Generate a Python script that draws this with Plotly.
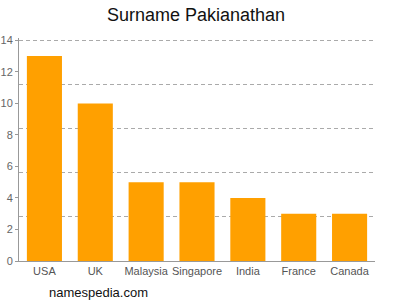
import plotly.graph_objects as go

countries = ["USA", "UK", "Malaysia", "Singapore", "India", "France", "Canada"]
counts = [13, 10, 5, 5, 4, 3, 3]
y_ticks = [0, 2, 4, 6, 8, 10, 12, 14]
grid_vals = [2.8, 5.6, 8.4, 11.2, 14]

fig = go.Figure()
fig.add_trace(go.Bar(x=countries, y=counts, marker=dict(color="#ffa000", line=dict(width=0)),
                     hoverinfo="x+y"))
fig.add_trace(go.Scatter(x=countries, y=counts, yaxis="y2", mode="markers",
                         marker=dict(opacity=0), hoverinfo="skip", showlegend=False))

font_family = "Liberation Sans, Arial, sans-serif"
yr = [0, 14.15]
fig.update_layout(
    width=400, height=300,
    margin=dict(l=19, r=25, t=38, b=39),
    paper_bgcolor="white", plot_bgcolor="white",
    showlegend=False,
    bargap=0.31,
    title=dict(text="Surname Pakianathan", x=0.49, xanchor="center", y=0.95, yanchor="middle",
               font=dict(family=font_family, size=18, color="#111")),
    xaxis=dict(showline=True, linecolor="#999", linewidth=1, ticks="", showgrid=False,
               tickangle=0, automargin=False,
               tickfont=dict(family=font_family, size=11, color="#555")),
    yaxis=dict(range=yr, tickvals=y_ticks, showgrid=False, showline=True,
               linecolor="#999", linewidth=1, ticks="outside", ticklen=3, tickcolor="#999",
               automargin=False,
               tickfont=dict(family=font_family, size=11, color="#666"), zeroline=False),
    yaxis2=dict(range=yr, overlaying="y", tickvals=grid_vals, showticklabels=False,
                showgrid=True, gridcolor="#aaa", griddash="4px,3px", gridwidth=1,
                automargin=False, zeroline=False, showline=False),
    annotations=[dict(text="namespedia.com", xref="paper", yref="paper", x=0.08, y=-0.14,
                      xanchor="left", yanchor="middle", showarrow=False,
                      font=dict(family=font_family, size=13, color="#111"))],
)

fig.write_html("out.html")
